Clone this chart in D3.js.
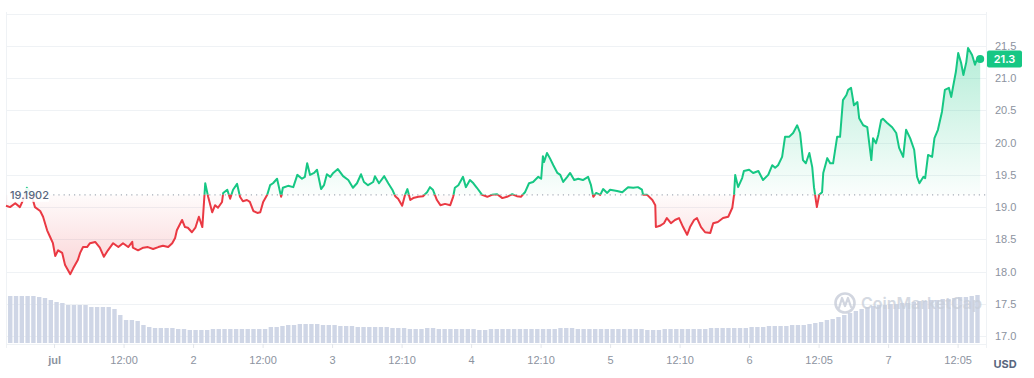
<!DOCTYPE html>
<html lang="en">
<head>
<meta charset="utf-8">
<title>Price chart</title>
<script src="https://cdn.jsdelivr.net/npm/d3@7"></script>
<style>
  body { margin: 0; background: #fff; }
  #chart { display: block; font-family: Inter, "Noto Sans", sans-serif; }
  .ylab text, .xlab text { fill: #8c93a0; font-size: 11px; }
</style>
</head>
<body>
<svg id="chart" width="1034" height="378"></svg>
<script>
// reference (opening) price and last price
const refPrice = 19.1902;
const lastPrice = 21.3;

// price points: [hours since 1 jul 00:00, price in USD]
const pricePoints = [
  [-8.3,19.02],[-7.6,19.00],[-6.7,19.06],[-5.9,19.00],[-5.2,19.14],[-4.7,19.30],[-4.0,19.22],[-3.3,19.00],
  [-2.4,18.94],[-1.9,18.85],[-1.2,18.64],[-0.7,18.54],[-0.2,18.44],[0.2,18.24],[0.7,18.33],[1.4,18.29],
  [1.9,18.10],[2.8,17.96],[3.3,18.05],[4.1,18.18],[4.5,18.29],[5.0,18.38],[5.7,18.38],[6.2,18.44],
  [7.1,18.46],[7.9,18.37],[8.6,18.23],[9.3,18.33],[10.2,18.44],[11.1,18.38],[11.9,18.44],[12.8,18.38],
  [13.5,18.46],[13.6,18.37],[14.5,18.33],[15.4,18.37],[16.2,18.38],[17.1,18.35],[18.0,18.38],[18.8,18.40],
  [19.7,18.38],[20.4,18.44],[20.9,18.52],[21.2,18.64],[22.1,18.80],[22.6,18.69],[23.1,18.68],[23.8,18.61],
  [24.4,18.68],[25.0,18.85],[25.6,18.69],[26.1,19.37],[26.6,19.16],[27.3,18.92],[27.8,19.03],[28.3,18.99],
  [29.0,19.08],[29.2,19.22],[29.9,19.27],[30.4,19.13],[30.9,19.27],[31.6,19.36],[32.1,19.16],[32.6,19.09],
  [33.3,19.11],[33.8,19.08],[34.4,18.94],[35.1,18.91],[35.6,18.92],[36.1,19.08],[36.8,19.19],[37.3,19.34],
  [37.8,19.37],[38.5,19.44],[39.2,19.16],[39.5,19.30],[40.4,19.33],[41.3,19.31],[42.0,19.50],[42.8,19.44],
  [43.3,19.47],[43.7,19.68],[44.2,19.50],[44.9,19.53],[45.4,19.58],[46.1,19.28],[46.6,19.34],[47.1,19.51],
  [47.7,19.47],[48.2,19.53],[49.0,19.59],[49.9,19.48],[50.8,19.42],[51.6,19.30],[52.3,19.37],[53.0,19.51],
  [53.5,19.39],[54.2,19.34],[55.1,19.39],[55.4,19.48],[56.1,19.37],[57.0,19.48],[57.7,19.37],[58.4,19.27],
  [58.9,19.17],[59.4,19.13],[60.1,19.02],[60.6,19.19],[61.0,19.28],[61.5,19.11],[62.0,19.14],[62.9,19.16],
  [63.7,19.17],[64.4,19.23],[64.9,19.31],[65.4,19.27],[66.1,19.11],[66.7,19.03],[67.5,19.05],[68.4,19.03],
  [68.9,19.16],[69.2,19.30],[69.8,19.34],[70.3,19.42],[70.6,19.47],[71.1,19.31],[71.8,19.42],[72.4,19.37],
  [73.0,19.30],[73.9,19.19],[74.8,19.16],[75.6,19.19],[76.5,19.20],[77.4,19.14],[78.2,19.16],[79.1,19.20],
  [79.9,19.17],[80.6,19.16],[81.3,19.23],[82.0,19.37],[82.7,19.39],[83.6,19.47],[84.1,19.44],[84.4,19.79],
  [84.6,19.70],[85.1,19.84],[85.6,19.76],[86.2,19.65],[86.9,19.53],[87.4,19.50],[87.9,19.39],[88.6,19.47],
  [89.1,19.53],[89.8,19.42],[90.5,19.44],[91.3,19.42],[92.2,19.47],[92.7,19.34],[93.1,19.16],[93.6,19.22],
  [94.3,19.19],[94.8,19.28],[95.5,19.22],[96.0,19.27],[97.2,19.25],[98.1,19.23],[99.1,19.31],[100.0,19.30],
  [100.8,19.31],[101.5,19.27],[101.7,19.19],[102.4,19.19],[103.3,19.11],[103.8,19.03],[103.9,18.69],[104.6,18.71],
  [105.3,18.75],[105.8,18.83],[106.5,18.75],[107.2,18.80],[107.9,18.83],[108.6,18.69],[109.3,18.57],[109.8,18.69],
  [110.5,18.80],[111.0,18.83],[111.7,18.69],[112.4,18.61],[113.3,18.60],[113.8,18.75],[114.6,18.77],[115.5,18.83],
  [116.4,18.85],[117.1,18.99],[117.4,19.19],[117.6,19.50],[118.1,19.31],[118.8,19.45],[119.1,19.56],[120.0,19.58],
  [120.7,19.53],[121.6,19.56],[122.4,19.42],[123.3,19.50],[124.0,19.65],[124.5,19.61],[125.0,19.65],[125.7,19.78],
  [126.2,20.09],[126.9,20.09],[127.6,20.15],[128.3,20.27],[128.8,20.15],[129.3,19.73],[129.8,19.68],[130.4,19.84],
  [130.9,19.62],[131.2,19.31],[131.7,19.00],[132.1,19.19],[132.6,19.23],[132.8,19.53],[133.5,19.76],[134.0,19.68],
  [134.5,19.68],[135.2,20.09],[135.7,20.09],[136.2,20.66],[136.8,20.74],[137.1,20.82],[137.6,20.85],[138.1,20.58],
  [138.7,20.63],[139.0,20.38],[139.7,20.27],[140.4,20.24],[141.1,19.73],[141.4,20.07],[141.9,19.99],[142.3,20.12],
  [142.8,20.35],[143.1,20.37],[143.8,20.31],[144.7,20.24],[145.4,20.15],[145.9,19.92],[146.6,19.78],[147.1,20.20],
  [147.8,20.07],[148.5,19.89],[149.0,19.47],[149.4,19.37],[150.1,19.47],[150.4,19.45],[150.9,19.81],[151.6,19.78],
  [152.0,20.07],[152.6,20.20],[153.3,20.48],[153.8,20.82],[154.5,20.85],[154.9,20.71],[155.2,20.86],[155.7,21.10],
  [156.1,21.39],[156.6,21.24],[157.0,21.05],[157.5,21.25],[157.8,21.47],[158.5,21.36],[159.0,21.21],[159.5,21.33],
  [159.9,21.30]
];

// hourly volume (M USD), first bar starts at hour -8
const volumeStart = -8;
const volumes = [
  47,47,47,47,47,46,45,43,
  41,40,38,38,38,38,36,36,36,36,
  34,28,23,23,22,18,16,15,
  15,15,15,14,14,13,13,13,
  13,14,
  14,14,14,14,14,14,14,14,14,
  16,16,17,18,18,
  19,19,19,19,18,18,18,
  17,17,17,16,16,16,16,16,16,15,15,15,
  14,14,14,15,15,14,14,14,14,14, 14,14,13,13,14,14,14,14,14,14,
  14,14,14,14,14,14,15,15,15,14, 14,14,14,14,14,14,14,14,14,14,
  14,13,13,13,14,14,14,14,14,14,
  14,14,15,15,15,15,15,
  15,15,16,16,16,17,17,17,17,18,18,18,19,20,21,23,24,26,28,30,32,
  34,36,37,38,38,39,39,40,40,41,42,42,43,43,44,44,45,46,46,47,48
];

// axis ticks
const xTickHours = [0,12,24,36,48,60,72,84,96,108,120,132,144,156];
const xTickLabels = ["jul","12:00","2","12:00","3","12:10","4","12:10","5","12:10","6","12:05","7","12:05"];
const yTicks = [17.0,17.5,18.0,18.5,19.0,19.5,20.0,20.5,21.0,21.5];
const yGrid = [17.0,17.5,18.0,18.5,19.0,19.5,20.0,20.5,21.0,21.5,22.0];

const green = "#16c784", red = "#ea3943";
const svg = d3.select("#chart");

const x = d3.scaleLinear().domain([-8.3, 160.9]).range([6, 986]);
const y = d3.scaleLinear().domain([17, 21.5]).range([336, 46]);
const yVol = d3.scaleLinear().domain([0, 50]).range([343, 293]);
const yBase = y(refPrice);

const defs = svg.append("defs");
defs.append("clipPath").attr("id", "above")
  .append("rect").attr("x", 0).attr("y", 0).attr("width", 1034).attr("height", yBase);
defs.append("clipPath").attr("id", "below")
  .append("rect").attr("x", 0).attr("y", yBase).attr("width", 1034).attr("height", 378 - yBase);

let gUp = defs.append("linearGradient").attr("id", "gUp")
  .attr("gradientUnits", "userSpaceOnUse").attr("x1", 0).attr("x2", 0)
  .attr("y1", y(21.5)).attr("y2", yBase);
gUp.append("stop").attr("offset", 0).attr("stop-color", green).attr("stop-opacity", 0.32);
gUp.append("stop").attr("offset", 1).attr("stop-color", green).attr("stop-opacity", 0.02);

let gDn = defs.append("linearGradient").attr("id", "gDn")
  .attr("gradientUnits", "userSpaceOnUse").attr("x1", 0).attr("x2", 0)
  .attr("y1", yBase).attr("y2", y(17.95));
gDn.append("stop").attr("offset", 0).attr("stop-color", red).attr("stop-opacity", 0.02);
gDn.append("stop").attr("offset", 1).attr("stop-color", red).attr("stop-opacity", 0.22);

// grid + frame
svg.append("g").selectAll("line")
  .data(yGrid).enter().append("line")
  .attr("x1", 6).attr("x2", 986)
  .attr("y1", d => Math.round(y(d)) + 0.5).attr("y2", d => Math.round(y(d)) + 0.5)
  .attr("stroke", "#eff2f5");
svg.append("line").attr("x1", 6.5).attr("x2", 6.5).attr("y1", 12).attr("y2", 345).attr("stroke", "#eff2f5");
svg.append("line").attr("x1", 986.5).attr("x2", 986.5).attr("y1", 12).attr("y2", 345).attr("stroke", "#eff2f5");

// volume bars
svg.append("g").selectAll("rect")
  .data(volumes).enter().append("rect")
  .attr("x", (d, i) => x(volumeStart + i) + 0.3)
  .attr("width", (d, i) => x(volumeStart + i + 1) - x(volumeStart + i) - 1.4)
  .attr("y", d => yVol(d))
  .attr("height", d => yVol(0) - yVol(d))
  .attr("fill", "#cfd6e6");

// watermark
let wm = svg.append("g").attr("opacity", 0.75);
wm.append("circle").attr("cx", 845).attr("cy", 303).attr("r", 9.5)
  .attr("fill", "none").attr("stroke", "#c3c9d6").attr("stroke-width", 2.6);
wm.append("path").attr("d", "M839,308 L842,298 L845,306 L848,298 L851,307")
  .attr("fill", "none").attr("stroke", "#c3c9d6").attr("stroke-width", 2.2)
  .attr("stroke-linejoin", "round").attr("stroke-linecap", "round");
wm.append("text").attr("x", 861).attr("y", 309).text("CoinMarketCap")
  .attr("font-size", 16).attr("font-weight", 600).attr("fill", "#c8ced9");

// areas and line, split at the reference price
const area = d3.area().x(d => x(d[0])).y0(yBase).y1(d => y(d[1]));
const line = d3.line().x(d => x(d[0])).y(d => y(d[1]));

svg.append("path").datum(pricePoints).attr("d", area)
  .attr("fill", "url(#gUp)").attr("clip-path", "url(#above)");
svg.append("path").datum(pricePoints).attr("d", area)
  .attr("fill", "url(#gDn)").attr("clip-path", "url(#below)");

// reference dotted line
svg.append("line").attr("x1", 48).attr("x2", 986).attr("y1", yBase).attr("y2", yBase)
  .attr("stroke", "#a7adb8").attr("stroke-width", 1.2).attr("stroke-dasharray", "1.2,4");

svg.append("path").datum(pricePoints).attr("d", line)
  .attr("fill", "none").attr("stroke", green).attr("stroke-width", 2)
  .attr("stroke-linejoin", "round").attr("clip-path", "url(#above)");
svg.append("path").datum(pricePoints).attr("d", line)
  .attr("fill", "none").attr("stroke", red).attr("stroke-width", 2)
  .attr("stroke-linejoin", "round").attr("clip-path", "url(#below)");

let last = pricePoints[pricePoints.length - 1];
svg.append("circle").attr("cx", x(last[0])).attr("cy", y(last[1])).attr("r", 4).attr("fill", green);

// reference price label
svg.append("rect").attr("x", 8).attr("y", yBase - 7).attr("width", 41).attr("height", 14)
  .attr("fill", "#fff").attr("opacity", 0.9);
svg.append("text").attr("x", 10).attr("y", yBase + 4).text(refPrice.toFixed(4))
  .attr("font-size", 11).attr("font-weight", 500).attr("fill", "#58667e");

// y axis
let yAxis = svg.append("g").attr("class", "ylab").attr("transform", "translate(986,0)")
  .call(d3.axisRight(y).tickValues(yTicks).tickFormat(d3.format(".1f")).tickSize(0).tickPadding(9));
yAxis.select(".domain").remove();

// last price badge
svg.append("rect").attr("x", 987).attr("y", y(lastPrice) - 8.5).attr("width", 35).attr("height", 17)
  .attr("rx", 2).attr("fill", green);
svg.append("text").attr("x", 1004.5).attr("y", y(lastPrice) + 4).attr("text-anchor", "middle")
  .text(lastPrice.toFixed(1)).attr("fill", "#fff").attr("font-size", 11).attr("font-weight", 600);

// x axis
let xAxis = svg.append("g").attr("class", "xlab").attr("transform", "translate(0,344)")
  .call(d3.axisBottom(x).tickValues(xTickHours).tickFormat((d, i) => xTickLabels[i]).tickSize(4).tickPadding(8));
xAxis.select(".domain").attr("stroke", "#eff2f5");
xAxis.selectAll(".tick line").attr("stroke", "#e3e6eb");
xAxis.selectAll(".tick text").filter((d, i) => i === 0)
  .attr("font-weight", 700).attr("fill", "#7d8595");

svg.append("text").attr("x", 1005).attr("y", 368).attr("text-anchor", "middle").text("USD")
  .attr("font-size", 11).attr("font-weight", 700).attr("fill", "#58667e");
</script>
</body>
</html>
